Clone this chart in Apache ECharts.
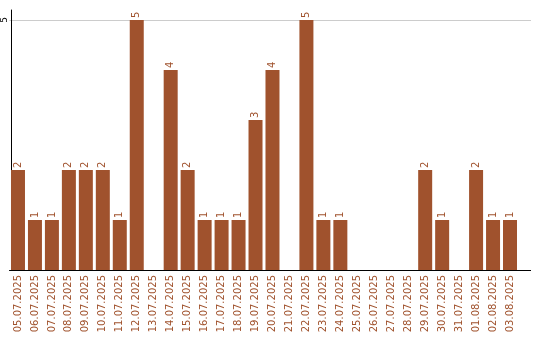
<!DOCTYPE html>
<html>
<head>
<meta charset="utf-8">
<script src="https://cdn.jsdelivr.net/npm/echarts@6/dist/echarts.min.js"></script>
<style>
  html, body { margin: 0; padding: 0; background: #fff; }
  #chart { width: 540px; height: 340px; }
</style>
</head>
<body>
<div id="chart"></div>
<script>
// dates (dd.mm.yyyy)
var days = ['05.07.2025', '06.07.2025', '07.07.2025', '08.07.2025', '09.07.2025',
  '10.07.2025', '11.07.2025', '12.07.2025', '13.07.2025', '14.07.2025',
  '15.07.2025', '16.07.2025', '17.07.2025', '18.07.2025', '19.07.2025',
  '20.07.2025', '21.07.2025', '22.07.2025', '23.07.2025', '24.07.2025',
  '25.07.2025', '26.07.2025', '27.07.2025', '28.07.2025', '29.07.2025',
  '30.07.2025', '31.07.2025', '01.08.2025', '02.08.2025', '03.08.2025'];
var counts = [2, 1, 1, 2, 2, 2, 1, 5, 0, 4, 2, 1, 1, 1, 3, 4, 0, 5, 1, 1,
  0, 0, 0, 0, 2, 1, 0, 2, 1, 1];

var brown = '#a0522d';
var chart = echarts.init(document.getElementById('chart'));

chart.setOption({
  animation: false,
  grid: { left: 8.5, top: 10, width: 510, bottom: 70 },
  xAxis: {
    type: 'category',
    data: days,
    axisLine: { lineStyle: { color: '#000', width: 1 } },
    axisTick: { show: false },
    axisLabel: {
      rotate: 90, interval: 0, color: brown, fontSize: 10,
      fontFamily: 'DejaVu Sans', margin: 5
    }
  },
  yAxis: {
    type: 'value',
    min: 0, max: 5.2, interval: 5,
    offset: -1.5,
    axisLine: { show: true, lineStyle: { color: '#000', width: 1 } },
    axisTick: { show: false },
    splitLine: { lineStyle: { color: ['#ccc', '#ccc', 'rgba(0,0,0,0)'] } },
    axisLabel: {
      rotate: 90, color: '#000', fontSize: 9, fontFamily: 'DejaVu Sans',
      margin: 2, showMinLabel: false, showMaxLabel: false,
      formatter: function (v) { return v === 5 ? '5' : ''; }
    }
  },
  series: [{
    type: 'bar',
    data: counts.map(function (v) { return v === 0 ? null : v; }),
    barWidth: 14,
    itemStyle: { color: brown },
    label: {
      show: true, position: 'top', rotate: 90, align: 'left',
      verticalAlign: 'middle', distance: 2,
      color: brown, fontSize: 10, fontFamily: 'DejaVu Sans'
    }
  }]
});

// axis line and top grid line run a bit past the last band
var y0 = Math.round(chart.convertToPixel({ yAxisIndex: 0 }, 0)) + 0.5;
var y5 = Math.round(chart.convertToPixel({ yAxisIndex: 0 }, 5)) + 0.5;
chart.setOption({
  graphic: [
    { type: 'line', z: 10, shape: { x1: 518, y1: y0, x2: 531, y2: y0 },
      style: { stroke: '#000', lineWidth: 1 } },
    { type: 'line', z: 0, shape: { x1: 518, y1: y5, x2: 531, y2: y5 },
      style: { stroke: '#ccc', lineWidth: 1 } }
  ]
});
</script>
</body>
</html>
